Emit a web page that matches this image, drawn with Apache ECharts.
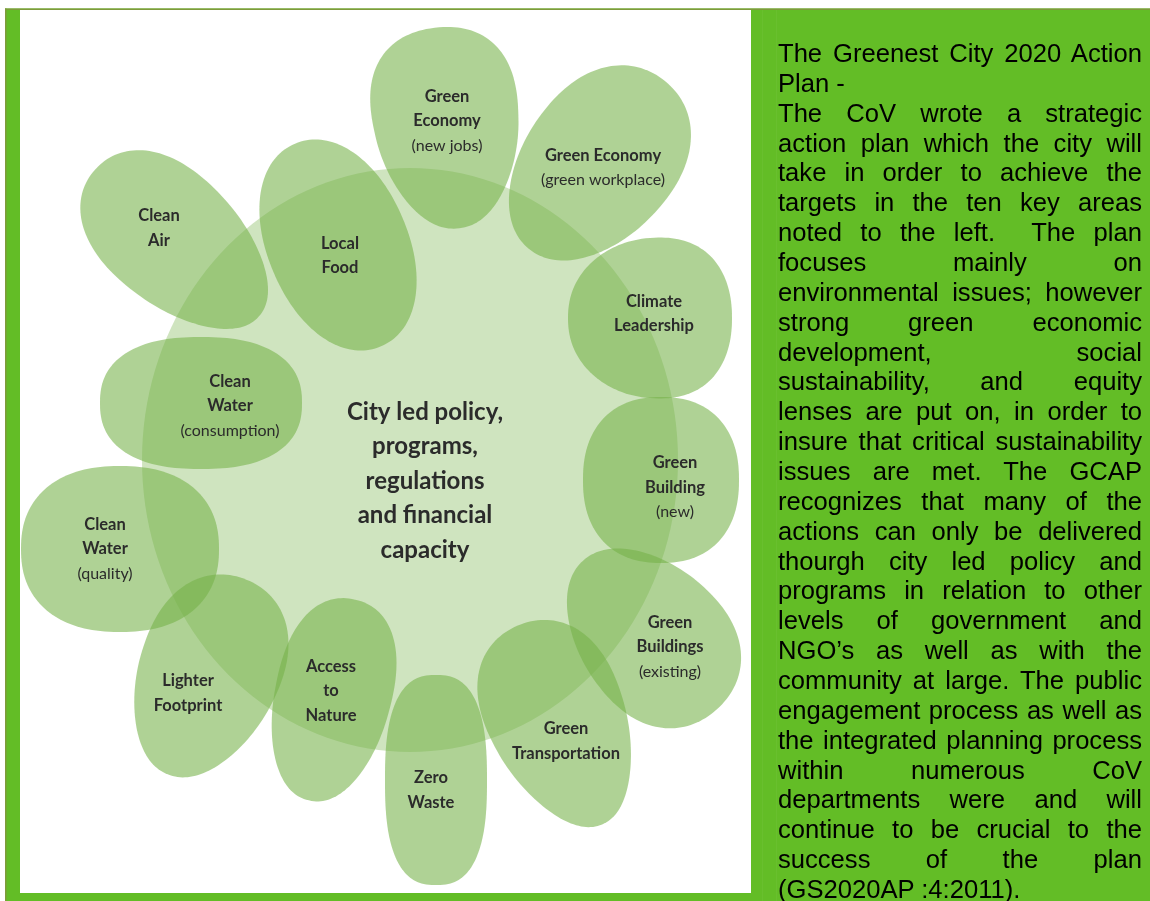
<!DOCTYPE html>
<html>
<head>
<meta charset="utf-8">
<script src="https://cdn.jsdelivr.net/npm/echarts@6.0.0/dist/echarts.min.js"></script>
<style>
html,body{margin:0;padding:0;background:#fff;overflow:hidden;}
#chart{position:absolute;left:0;top:0;width:1150px;height:901px;}
#txt{position:absolute;left:778px;top:39px;width:364px;font-family:"Liberation Sans",Arial,sans-serif;font-size:25.6px;line-height:29.86px;color:#000;}
#txt div{text-align:justify;text-align-last:justify;height:29.86px;}
#txt div.l{text-align-last:left;}
</style>
</head>
<body>
<div id="chart"></div>
<div id="txt"></div>
<script>
// ---- Petals (key areas) ----
const petalTitle = ['Green\nEconomy','Green Economy','Climate\nLeadership','Green\nBuilding','Green\nBuildings','Green\nTransportation','Zero\nWaste','Access\nto\nNature','Lighter\nFootprint','Clean\nWater','Clean\nWater','Clean\nAir','Local\nFood'];
const petalSub   = ['(new jobs)','(green workplace)','','(new)','(existing)','','','','','(quality)','(consumption)','',''];
const petalX     = [447, 597, 650, 661, 650, 560, 436, 332, 207, 120, 201, 177, 338];
const petalY     = [128, 165, 318, 480, 635, 725, 780, 700, 677, 549, 403, 243, 245];
const petalLen   = [101, 108,  82,  83, 100, 108, 105, 103, 105,  99, 101, 110, 110];
const petalWid   = [ 72,  75,  80,  78,  72,  68,  51,  58,  70,  83,  66,  65,  70];
const petalAngle = [-97, -51,   0,  90,  48, 247,  90, -77, -68,   0,   0,-138,  67];
const petalEgg   = [0.2, 0.1, 0.1,   0, 0.15, 0.2,  0, 0.1, 0.15, 0,   0, 0.15,  0];
const petalRound = [2.2, 2.1, 2.2, 2.3, 2.1, 2.1, 2.6, 2.2, 2.1, 2.3, 2.4, 2.1, 2.1];
const labelX     = [447, 603, 654, 675, 670, 566, 431, 331, 188, 105, 230, 159, 340];
const labelY     = [121, 167.5, 313.5, 487.5, 647, 741, 790, 691, 693, 549, 406, 228, 255.5];

// ---- Hub (centre) ----
const hubText = 'City led policy,\nprograms,\nregulations\nand financial\ncapacity';
const hubX = 410, hubY = 460, hubRx = 268, hubRy = 292;
const hubLabelX = 425, hubLabelY = 481;

// ---- Side text ----
const sideLines = [
 'The Greenest City 2020 Action','Plan -',
 'The CoV wrote a strategic','action plan which the city will','take in order to achieve the',
 'targets in the ten key areas','noted to the left.\u00a0 The plan','focuses mainly on',
 'environmental issues; however','strong green economic','development, social',
 'sustainability, and equity','lenses are put on, in order to','insure that critical sustainability',
 'issues are met. The GCAP','recognizes that many of the','actions can only be delivered',
 'thourgh city led policy and','programs in relation to other','levels of government and',
 'NGO\u2019s as well as with the','community at large. The public','engagement process as well as',
 'the integrated planning process','within numerous CoV','departments were and will',
 'continue to be crucial to the','success of the plan','(GS2020AP :4:2011).'
];
const leftAligned = [1, 28];

const txt = document.getElementById('txt');
sideLines.forEach((s, i) => {
  const d = document.createElement('div');
  d.textContent = s;
  if (leftAligned.indexOf(i) >= 0) d.className = 'l';
  txt.appendChild(d);
});

function blob(cx, cy, a, b, ang, k, p) {
  const pts = [];
  const c = Math.cos(ang * Math.PI / 180), s = Math.sin(ang * Math.PI / 180);
  const N = 160;
  for (let i = 0; i < N; i++) {
    const t = i / N * 2 * Math.PI;
    const ct = Math.cos(t), st = Math.sin(t);
    const u = a * Math.sign(ct) * Math.pow(Math.abs(ct), 2 / p);
    const v = b * Math.sign(st) * Math.pow(Math.abs(st), 2 / p) * (1 + k * ct);
    pts.push([cx + u * c - v * s, cy + u * s + v * c]);
  }
  return pts;
}

const petalData = petalX.map((x, i) => [x, petalY[i], petalLen[i], petalWid[i], petalAngle[i], petalEgg[i], petalRound[i], labelX[i], labelY[i], i]);

const chart = echarts.init(document.getElementById('chart'), null, {renderer: 'canvas'});
const G = '#63bd26';
const INK = '#2b2b2b';
chart.setOption({
  animation: false,
  backgroundColor: '#ffffff',
  grid: {left: 0, right: 0, top: 0, bottom: 0},
  xAxis: {type: 'value', min: 0, max: 1150, show: false},
  yAxis: {type: 'value', min: 0, max: 901, inverse: true, show: false},
  graphic: [
    {type: 'rect', shape: {x: 5, y: 8.5, width: 1145, height: 893}, style: {fill: G}, z: 0},
    {type: 'rect', shape: {x: 5, y: 8.5, width: 1145, height: 1.5}, style: {fill: '#7f9a3c'}, z: 1},
    {type: 'rect', shape: {x: 5, y: 8.5, width: 1.5, height: 893}, style: {fill: '#7f9a3c'}, z: 1},
    {type: 'rect', shape: {x: 20, y: 10, width: 731, height: 883}, style: {fill: '#ffffff'}, z: 1},
    {type: 'rect', shape: {x: 762, y: 10, width: 1, height: 891}, style: {fill: 'rgba(255,255,255,0.04)'}, z: 1},
    {type: 'rect', shape: {x: 776, y: 10, width: 1, height: 891}, style: {fill: 'rgba(255,255,255,0.04)'}, z: 1}
  ],
  series: [
    {
      type: 'custom',
      coordinateSystem: 'cartesian2d',
      z: 3,
      data: [[hubX, hubY, hubRx, hubRy, hubLabelX, hubLabelY]],
      renderItem: function (params, api) {
        const pts = blob(api.value(0), api.value(1), api.value(2), api.value(3), 0, 0, 2).map(p => api.coord(p));
        const lp = api.coord([api.value(4), api.value(5)]);
        return {
          type: 'group',
          children: [
            {type: 'polygon', shape: {points: pts}, style: {fill: 'rgba(118,178,73,0.35)'}},
            {type: 'text', z2: 50, style: {
              text: hubText, x: lp[0], y: lp[1], align: 'center', verticalAlign: 'middle',
              fill: INK, fontFamily: 'Lato', fontWeight: 'bold', fontSize: 24, lineHeight: 34.5
            }}
          ]
        };
      }
    },
    {
      type: 'custom',
      coordinateSystem: 'cartesian2d',
      z: 4,
      data: petalData,
      renderItem: function (params, api) {
        const pts = blob(api.value(0), api.value(1), api.value(2), api.value(3), api.value(4), api.value(5), api.value(6)).map(p => api.coord(p));
        return {type: 'polygon', shape: {points: pts}, style: {fill: 'rgba(118,178,73,0.58)'}};
      }
    },
    {
      type: 'custom',
      coordinateSystem: 'cartesian2d',
      z: 6,
      data: petalData,
      renderItem: function (params, api) {
        const i = api.value(9);
        const lp = api.coord([api.value(7), api.value(8)]);
        const t = petalTitle[i].split('\n').map(s => '{t|' + s + '}');
        if (petalSub[i]) t.push('{s|' + petalSub[i] + '}');
        return {
          type: 'text',
          style: {
            text: t.join('\n'), x: lp[0], y: lp[1], align: 'center', verticalAlign: 'middle',
            fill: INK,
            rich: {
              t: {fontFamily: 'Lato', fontWeight: 'bold', fontSize: 16.5, lineHeight: 24.5, fill: INK},
              s: {fontFamily: 'Lato', fontWeight: 'normal', fontSize: 16, lineHeight: 24.5, fill: INK}
            }
          }
        };
      }
    }
  ]
});
</script>
</body>
</html>
